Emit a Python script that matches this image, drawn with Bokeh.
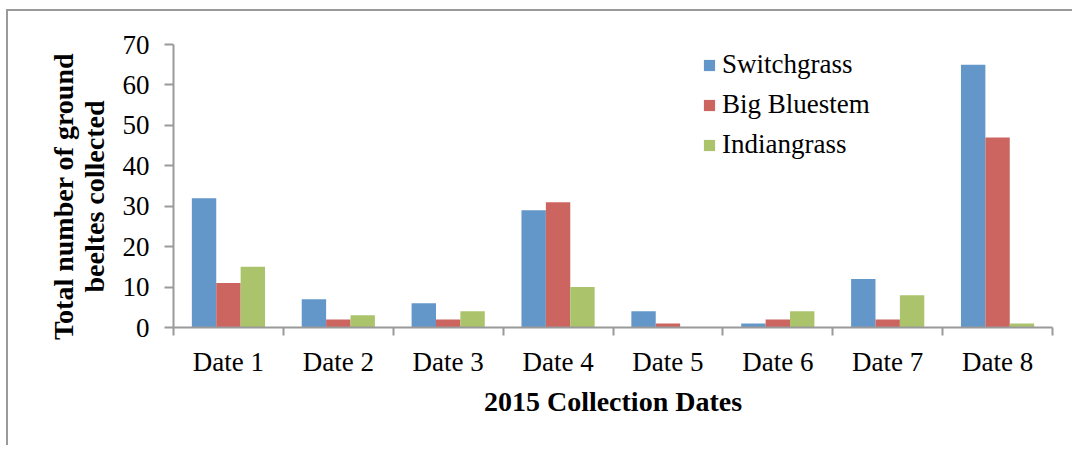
from bokeh.plotting import figure
from bokeh.models import Range1d, FixedTicker, Legend, LegendItem, ColumnDataSource
from bokeh.transform import dodge
from bokeh.embed import file_html
from bokeh.resources import INLINE

dates = ["Date 1", "Date 2", "Date 3", "Date 4", "Date 5", "Date 6", "Date 7", "Date 8"]
switchgrass = [32, 7, 6, 29, 4, 1, 12, 65]
big_bluestem = [11, 2, 2, 31, 1, 2, 2, 47]
indiangrass = [15, 3, 4, 10, 0, 4, 8, 1]
y_ticks = [0, 10, 20, 30, 40, 50, 60, 70]

series = [("Switchgrass", switchgrass, "#6397CA"),
          ("Big Bluestem", big_bluestem, "#CC655F"),
          ("Indiangrass", indiangrass, "#ABC46B")]

centers = [i + 0.5 for i in range(len(dates))]
src = ColumnDataSource(dict(x=centers, s=switchgrass, b=big_bluestem, g=indiangrass))

SERIF = "Liberation Serif"
NB = "\u00a0"

p = figure(width=1066, height=436, output_backend="svg", toolbar_location=None,
           x_range=Range1d(0, len(dates)), y_range=Range1d(0, 70),
           min_border_left=165, min_border_right=22, min_border_top=33, min_border_bottom=120)
p.styles = {"border-top": "2px solid #9a9a9a", "border-left": "2px solid #9a9a9a",
            "margin-left": "6px", "margin-top": "9px"}
p.outline_line_color = None
p.xgrid.grid_line_color = None
p.ygrid.grid_line_color = None

bw = 0.222
offsets = [-bw, 0.0, bw]
cols = ["s", "b", "g"]
renderers = []
for (name, vals, color), off, col in zip(series, offsets, cols):
    r = p.vbar(x=dodge("x", off, range=p.x_range), top=col, width=bw, bottom=0,
               source=src, fill_color=color, line_color=None)
    renderers.append((name, r))

# axes
xa = p.xaxis[0]
xa.ticker = FixedTicker(ticks=centers, minor_ticks=list(range(len(dates) + 1)))
xa.major_label_overrides = {c: d for c, d in zip(centers, dates)}
xa.major_tick_line_color = None
xa.major_tick_out = 0
xa.major_tick_in = 0
xa.minor_tick_line_color = "#9a9a9a"
xa.minor_tick_line_width = 2
xa.minor_tick_out = 8
xa.minor_tick_in = 0
xa.axis_line_color = "#9a9a9a"
xa.axis_line_width = 2
xa.major_label_text_font = SERIF
xa.major_label_text_font_size = "27px"
xa.major_label_text_color = "#000000"
xa.major_label_standoff = 11
xa.axis_label = "2015 Collection Dates"
xa.axis_label_text_font = SERIF
xa.axis_label_text_font_style = "bold"
xa.axis_label_text_font_size = "28px"
xa.axis_label_text_color = "#000000"
xa.axis_label_standoff = 6

ya = p.yaxis[0]
ya.ticker = FixedTicker(ticks=y_ticks)
ya.minor_tick_line_color = None
ya.major_tick_line_color = "#9a9a9a"
ya.major_tick_line_width = 2
ya.major_tick_out = 9
ya.major_tick_in = 0
ya.axis_line_color = "#9a9a9a"
ya.axis_line_width = 2
ya.major_label_text_font = SERIF
ya.major_label_text_font_size = "27px"
ya.major_label_text_color = "#000000"
ya.major_label_standoff = 15
ya.axis_label = "Total number of ground" + NB * 3 + "\nbeeltes collected" + NB * 3
ya.axis_label_text_font = SERIF
ya.axis_label_text_font_style = "bold"
ya.axis_label_text_font_size = "28px"
ya.axis_label_text_line_height = 1.0
ya.axis_label_text_color = "#000000"
ya.axis_label_standoff = 10

legend = Legend(items=[LegendItem(label=n, renderers=[r]) for n, r in renderers],
                location=(529, 167), orientation="vertical",
                glyph_width=14, glyph_height=14, label_height=14,
                label_standoff=6, spacing=9, padding=0, margin=0,
                border_line_color=None, background_fill_alpha=0,
                label_text_font=SERIF, label_text_font_size="27px",
                label_text_color="#000000")
p.add_layout(legend, "center")

open("out.html", "w").write(file_html(p, INLINE))
